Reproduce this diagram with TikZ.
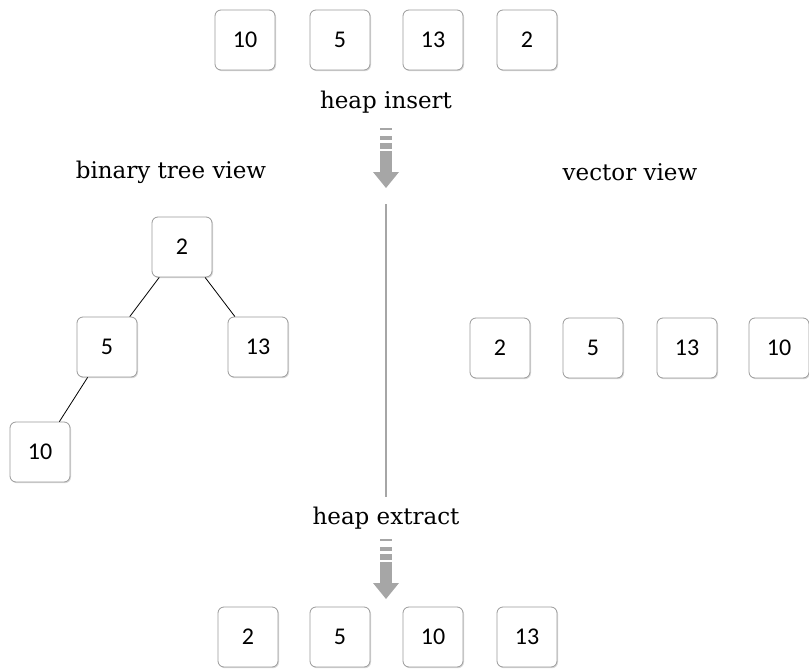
\documentclass[tikz,border=0pt]{standalone}
\usepackage{fontspec}
\setmainfont{DejaVu Serif}
\newfontfamily\numfont{Carlito}
\usetikzlibrary{shadows}
\definecolor{arrowgray}{HTML}{A6A6A6}
\definecolor{boxborder}{HTML}{9A9A9A}
\tikzset{
  numbox/.style={draw=boxborder, line width=0.8pt, fill=white, rounded corners=6pt,
    minimum width=60pt, minimum height=60pt, inner sep=0pt,
    font=\numfont\fontsize{24}{24}\selectfont,
    drop shadow={shadow xshift=1pt, shadow yshift=-1.2pt, opacity=0.25, fill=black!60}},
  lbl/.style={font=\fontsize{23}{27}\selectfont, inner sep=0pt},
  treeedge/.style={draw=black, line width=0.8pt},
  divider/.style={draw=arrowgray, line width=2.5pt},
  pics/heaparrow/.style={code={
    \fill[arrowgray] (-6,0) rectangle (6,2);
    \fill[arrowgray] (-6,8) rectangle (6,12);
    \fill[arrowgray] (-6,15) rectangle (6,21);
    \fill[arrowgray] (-6,23) rectangle (6,44);
    \fill[arrowgray] (-13,44) -- (13,44) -- (0,60) -- cycle;
  }}
}
\begin{document}
\begin{tikzpicture}[x=1pt,y=-1pt]
\useasboundingbox (0,0) rectangle (809,669);
% top input row
\node[numbox] (in1) at (245,40) {10};
\node[numbox] (in2) at (340,40) {5};
\node[numbox] (in3) at (433,40) {13};
\node[numbox] (in4) at (527,40) {2};
% labels
\node[lbl] (ins) at (386,102) {heap insert};
\node[lbl] (btv) at (171,172) {binary tree view};
\node[lbl] (vv) at (630,172) {vector view};
\node[lbl] (ext) at (386,518) {heap extract};
% arrows
\pic at (386,128) {heaparrow};
\pic at (386,539) {heaparrow};
% divider
\coordinate (vtop) at (386,204);
\coordinate (vbot) at (386,497);
\draw[divider] (vtop) -- (vbot);
% tree
\node[numbox] (t2) at (182,247) {2};
\node[numbox] (t5) at (107,347) {5};
\node[numbox] (t13) at (258,347) {13};
\node[numbox] (t10) at (40,452) {10};
\draw[treeedge] (t2) -- (t5);
\draw[treeedge] (t2) -- (t13);
\draw[treeedge] (t5) -- (t10);
% vector
\node[numbox] (v1) at (500,348) {2};
\node[numbox] (v2) at (593,348) {5};
\node[numbox] (v3) at (687,348) {13};
\node[numbox] (v4) at (779,348) {10};
% output row
\node[numbox] (o1) at (248,637) {2};
\node[numbox] (o2) at (340,637) {5};
\node[numbox] (o3) at (433,637) {10};
\node[numbox] (o4) at (527,637) {13};
\end{tikzpicture}
\end{document}
